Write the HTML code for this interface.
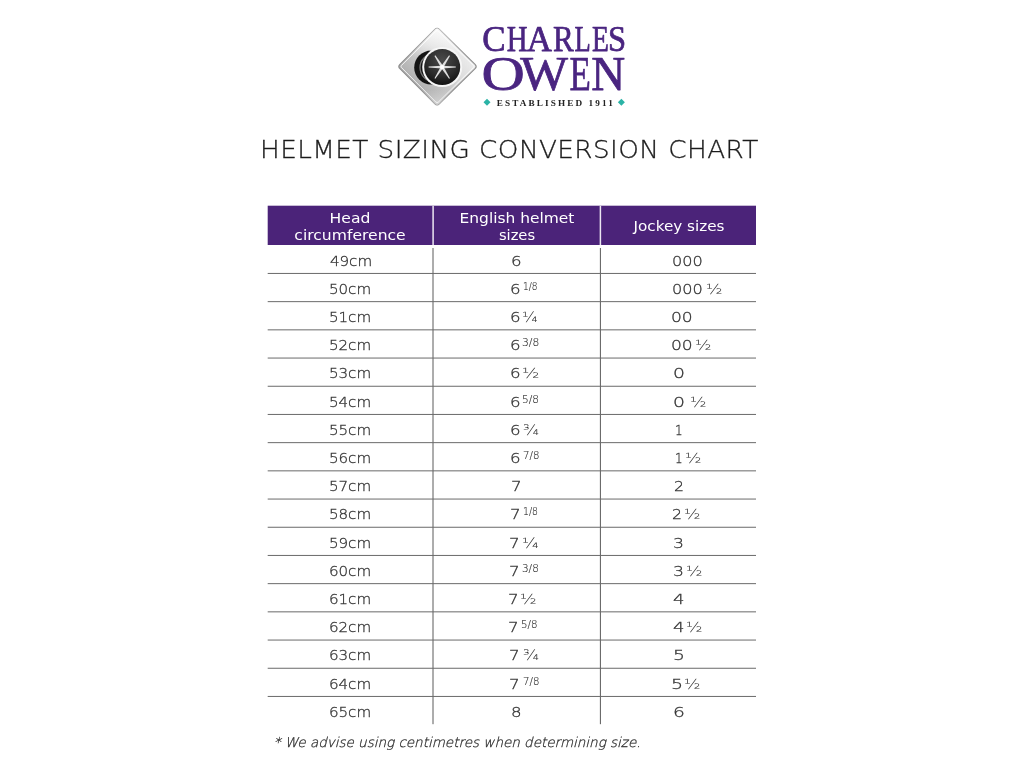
<!DOCTYPE html>
<html lang="en">
<head>
<meta charset="utf-8">
<title>Helmet Sizing Conversion Chart</title>
<style>
html,body{margin:0;padding:0;background:#fff;}
body{width:1024px;height:768px;position:relative;overflow:hidden;font-family:"DejaVu Sans","Liberation Sans",sans-serif;color:#555;}
#grid{position:absolute;left:0;top:0;}
#logo{position:absolute;left:390px;top:20px;width:250px;height:100px;}
h1{position:absolute;margin:0;left:259.8px;top:133.5px;font-family:"DejaVu Sans Light","DejaVu Sans","Liberation Sans",sans-serif;font-weight:normal;font-size:25.2px;line-height:32px;letter-spacing:0.4px;color:#1c1c1c;white-space:nowrap;transform:scaleX(1.043);transform-origin:0 0;-webkit-text-stroke:0.3px #1c1c1c;}
.th{position:absolute;width:160px;color:#fff;font-size:14.3px;line-height:17px;height:17px;text-align:center;white-space:nowrap;transform-origin:50% 0;}
.d,.s{position:absolute;white-space:nowrap;line-height:20px;height:20px;transform-origin:0 0;font-family:"DejaVu Sans Light","DejaVu Sans","Liberation Sans",sans-serif;color:#333;-webkit-text-stroke:0.3px #333;}
.d{font-size:14.6px;}
.f{-webkit-text-stroke:0;color:#333;}
.s{font-size:9.6px;-webkit-text-stroke:0.12px #2a2a2a;color:#2a2a2a;}
.ctr{width:160px;text-align:center;transform-origin:50% 0;}
#note{position:absolute;left:273.7px;top:733.3px;font-style:italic;font-size:13.5px;line-height:18px;white-space:nowrap;color:#333;font-family:"DejaVu Sans Light","DejaVu Sans","Liberation Sans",sans-serif;-webkit-text-stroke:0.3px #333;}
</style>
</head>
<body>
<svg id="logo" viewBox="390 20 250 100" width="250" height="100">
  <defs>
    <linearGradient id="dg" x1="0.22" y1="0.78" x2="0.8" y2="0.2">
      <stop offset="0" stop-color="#adadad"/>
      <stop offset="0.35" stop-color="#c6c6c6"/>
      <stop offset="0.65" stop-color="#dedede"/>
      <stop offset="1" stop-color="#efefef"/>
    </linearGradient>
    <linearGradient id="dh" x1="0" y1="0" x2="0" y2="1">
      <stop offset="0" stop-color="#ffffff" stop-opacity="0.75"/>
      <stop offset="0.38" stop-color="#ffffff" stop-opacity="0"/>
      <stop offset="0.8" stop-color="#ffffff" stop-opacity="0"/>
      <stop offset="1" stop-color="#ffffff" stop-opacity="0.45"/>
    </linearGradient>
    <radialGradient id="disc" cx="0.5" cy="0.3" r="0.75">
      <stop offset="0" stop-color="#4a4a4a"/>
      <stop offset="0.6" stop-color="#2b2b2b"/>
      <stop offset="1" stop-color="#0c0c0c"/>
    </radialGradient>
  </defs>
  <path d="M399.9 64.3 L434.9 29.3 Q437.1 27.1 439.3 29.3 L475.1 64.3 Q477.3 66.5 475.1 68.7 L439.3 103.9 Q437.1 106.1 434.9 103.9 L399.9 68.7 Q397.7 66.5 399.9 64.3 Z" fill="url(#dg)" stroke="#8f8f8f" stroke-width="1.1"/>
  <path d="M399.9 64.3 L434.9 29.3 Q437.1 27.1 439.3 29.3 L475.1 64.3 Q477.3 66.5 475.1 68.7 L439.3 103.9 Q437.1 106.1 434.9 103.9 L399.9 68.7 Q397.7 66.5 399.9 64.3 Z" fill="url(#dh)"/>
  <path d="M401.6 65.4 L435.7 31.3 Q437.1 29.9 438.5 31.3 L473.4 65.4 Q474.5 66.5 473.4 67.6 L438.5 101.9 Q437.1 103.3 435.7 101.9 L401.6 67.6 Q400.5 66.5 401.6 65.4 Z" fill="none" stroke="#ffffff" stroke-width="1" opacity="0.75"/>
  <circle cx="431.2" cy="67.6" r="17" fill="#141414"/>
  <circle cx="434" cy="67.6" r="14" fill="none" stroke="#767676" stroke-width="1.3"/>
  <circle cx="442.2" cy="67.1" r="20" fill="#f6f6f6"/>
  <circle cx="442.2" cy="67.1" r="18" fill="url(#disc)"/>
  <g fill="#dedede">
    <path d="M442.2 65.7 L455.8 66.6 L455.8 67.6 L442.2 68.5 L428.6 67.6 L428.6 66.6 Z"/>
    <path d="M442.2 65.7 L455.8 66.6 L455.8 67.6 L442.2 68.5 L428.6 67.6 L428.6 66.6 Z" transform="rotate(57.5 442.2 67.1)"/>
    <path d="M442.2 65.7 L455.8 66.6 L455.8 67.6 L442.2 68.5 L428.6 67.6 L428.6 66.6 Z" transform="rotate(-57.5 442.2 67.1)"/>
    <circle cx="442.2" cy="67.1" r="2.2" fill="#ffffff"/>
  </g>
  <g fill="#4a2580" stroke="#4a2580" stroke-width="0.75" stroke-linejoin="round" font-family="'Liberation Serif','DejaVu Serif',serif">
    <text y="51.2" font-size="35.7"><tspan x="482.26" textLength="23.37" lengthAdjust="spacingAndGlyphs">C</tspan><tspan x="506.67" textLength="20.77" lengthAdjust="spacingAndGlyphs">H</tspan><tspan x="526.76" textLength="25.20" lengthAdjust="spacingAndGlyphs">A</tspan><tspan x="553.00" textLength="20.74" lengthAdjust="spacingAndGlyphs">R</tspan><tspan x="574.43" textLength="16.27" lengthAdjust="spacingAndGlyphs">L</tspan><tspan x="591.90" textLength="16.87" lengthAdjust="spacingAndGlyphs">E</tspan><tspan x="608.12" textLength="18.09" lengthAdjust="spacingAndGlyphs">S</tspan></text>
    <text y="90.3" font-size="48.9"><tspan x="481.64" textLength="43.32" lengthAdjust="spacingAndGlyphs">O</tspan><tspan x="520.25" textLength="47.75" lengthAdjust="spacingAndGlyphs">W</tspan><tspan x="569.49" textLength="21.35" lengthAdjust="spacingAndGlyphs">E</tspan><tspan x="591.35" textLength="33.93" lengthAdjust="spacingAndGlyphs">N</tspan></text>
  </g>
  <text x="496.8" y="105.6" font-family="'Liberation Serif','DejaVu Serif',serif" font-weight="bold" font-size="9.2" fill="#222" textLength="116" lengthAdjust="spacing">ESTABLISHED 1911</text>
  <path d="M487 98.8 L490.5 102.3 L487 105.8 L483.5 102.3 Z" fill="#2bb3a6"/>
  <path d="M621.4 98.8 L624.9 102.3 L621.4 105.8 L617.9 102.3 Z" fill="#2bb3a6"/>
</svg>

<h1>HELMET SIZING CONVERSION CHART</h1>
<svg id="grid" width="1024" height="768" viewBox="0 0 1024 768">
<rect x="267.7" y="205.7" width="488.3" height="39.3" fill="#4b2379"/>
<path d="M433.1 205.7V245M600.4 205.7V245" stroke="#ebe6f1" stroke-width="1.5" fill="none"/>
<path d="M433 248V724.2M600.4 248V724.2" stroke="#5a5a5a" stroke-width="1" fill="none"/>
<path d="M267.7 273.45H756M267.7 301.65H756M267.7 329.85H756M267.7 358.05H756M267.7 386.25H756M267.7 414.45H756M267.7 442.65H756M267.7 470.85H756M267.7 499.05H756M267.7 527.25H756M267.7 555.45H756M267.7 583.65H756M267.7 611.85H756M267.7 640.05H756M267.7 668.25H756M267.7 696.45H756" stroke="#6a6a6a" stroke-width="1" fill="none"/>
</svg>
<span class="th" style="left:270.2px;top:209.6px;transform:scaleX(1.09)">Head</span>
<span class="th" style="left:270.2px;top:226.6px;transform:scaleX(1.09)">circumference</span>
<span class="th" style="left:436.8px;top:209.6px;transform:scaleX(1.08)">English helmet</span>
<span class="th" style="left:436.5px;top:226.6px;transform:scaleX(1.03)">sizes</span>
<span class="th" style="left:598.5px;top:217.8px;transform:scaleX(1.063)">Jockey sizes</span>

<div id="chart" role="table">
<div class="row" role="row">
<span class="d ctr" id="a0" style="left:270.59px;top:250.55px;transform:scaleX(1.035)">49cm</span>
<span class="d" id="b0" style="left:511.08px;top:250.55px;transform:scaleX(1.140)">6</span>
<span class="d" id="c0" style="left:672.25px;top:250.55px;transform:scaleX(1.104)">000</span>
</div>
<div class="row" role="row">
<span class="d ctr" id="a1" style="left:270.20px;top:278.75px;transform:scaleX(1.035)">50cm</span>
<span class="d" id="b1" style="left:510.22px;top:278.75px;transform:scaleX(1.140)">6</span>
<span class="s" id="bf1" style="left:523.24px;top:276.88px;transform:scaleX(0.938)">1/8</span>
<span class="d" id="c1" style="left:672.25px;top:278.75px;transform:scaleX(1.104)">000</span>
<span class="d f" id="cf1" style="left:706.23px;top:278.75px;transform:scaleX(1.170)">½</span>
</div>
<div class="row" role="row">
<span class="d ctr" id="a2" style="left:270.20px;top:306.95px;transform:scaleX(1.035)">51cm</span>
<span class="d" id="b2" style="left:510.07px;top:306.95px;transform:scaleX(1.140)">6</span>
<span class="d f" id="bf2" style="left:522.45px;top:306.95px;transform:scaleX(1.113)">¼</span>
<span class="d" id="c2" style="left:671.31px;top:306.95px;transform:scaleX(1.170)">00</span>
</div>
<div class="row" role="row">
<span class="d ctr" id="a3" style="left:270.20px;top:335.15px;transform:scaleX(1.035)">52cm</span>
<span class="d" id="b3" style="left:510.32px;top:335.15px;transform:scaleX(1.140)">6</span>
<span class="s" id="bf3" style="left:522.11px;top:333.28px;transform:scaleX(1.115)">3/8</span>
<span class="d" id="c3" style="left:671.31px;top:335.15px;transform:scaleX(1.170)">00</span>
<span class="d f" id="cf3" style="left:695.35px;top:335.15px;transform:scaleX(1.170)">½</span>
</div>
<div class="row" role="row">
<span class="d ctr" id="a4" style="left:270.20px;top:363.35px;transform:scaleX(1.035)">53cm</span>
<span class="d" id="b4" style="left:510.32px;top:363.35px;transform:scaleX(1.140)">6</span>
<span class="d f" id="bf4" style="left:521.88px;top:363.35px;transform:scaleX(1.231)">½</span>
<span class="d" id="c4" style="left:672.73px;top:363.35px;transform:scaleX(1.286)">0</span>
</div>
<div class="row" role="row">
<span class="d ctr" id="a5" style="left:270.20px;top:391.55px;transform:scaleX(1.035)">54cm</span>
<span class="d" id="b5" style="left:510.32px;top:391.55px;transform:scaleX(1.140)">6</span>
<span class="s" id="bf5" style="left:522.26px;top:389.68px;transform:scaleX(1.098)">5/8</span>
<span class="d" id="c5" style="left:672.73px;top:391.55px;transform:scaleX(1.286)">0</span>
<span class="d f" id="cf5" style="left:690.25px;top:391.55px;transform:scaleX(1.171)">½</span>
</div>
<div class="row" role="row">
<span class="d ctr" id="a6" style="left:270.20px;top:419.75px;transform:scaleX(1.035)">55cm</span>
<span class="d" id="b6" style="left:510.32px;top:419.75px;transform:scaleX(1.140)">6</span>
<span class="d f" id="bf6" style="left:522.78px;top:419.75px;transform:scaleX(1.133)">¾</span>
<span class="d" id="c6" style="left:675.28px;top:419.75px;transform:scaleX(0.820)">1</span>
</div>
<div class="row" role="row">
<span class="d ctr" id="a7" style="left:270.20px;top:447.95px;transform:scaleX(1.035)">56cm</span>
<span class="d" id="b7" style="left:510.32px;top:447.95px;transform:scaleX(1.140)">6</span>
<span class="s" id="bf7" style="left:523.20px;top:446.08px;transform:scaleX(1.059)">7/8</span>
<span class="d" id="c7" style="left:675.28px;top:447.95px;transform:scaleX(0.820)">1</span>
<span class="d f" id="cf7" style="left:685.35px;top:447.95px;transform:scaleX(1.170)">½</span>
</div>
<div class="row" role="row">
<span class="d ctr" id="a8" style="left:270.20px;top:476.15px;transform:scaleX(1.035)">57cm</span>
<span class="d" id="b8" style="left:511.11px;top:476.15px;transform:scaleX(1.140)">7</span>
<span class="d" id="c8" style="left:673.84px;top:476.15px;transform:scaleX(1.077)">2</span>
</div>
<div class="row" role="row">
<span class="d ctr" id="a9" style="left:270.20px;top:504.35px;transform:scaleX(1.035)">58cm</span>
<span class="d" id="b9" style="left:510.08px;top:504.35px;transform:scaleX(1.140)">7</span>
<span class="s" id="bf9" style="left:523.16px;top:502.48px;transform:scaleX(0.974)">1/8</span>
<span class="d" id="c9" style="left:671.90px;top:504.35px;transform:scaleX(1.077)">2</span>
<span class="d f" id="cf9" style="left:684.35px;top:504.35px;transform:scaleX(1.170)">½</span>
</div>
<div class="row" role="row">
<span class="d ctr" id="a10" style="left:270.20px;top:532.55px;transform:scaleX(1.035)">59cm</span>
<span class="d" id="b10" style="left:509.29px;top:532.55px;transform:scaleX(1.140)">7</span>
<span class="d f" id="bf10" style="left:522.16px;top:532.55px;transform:scaleX(1.178)">¼</span>
<span class="d" id="c10" style="left:672.93px;top:532.55px;transform:scaleX(1.182)">3</span>
</div>
<div class="row" role="row">
<span class="d ctr" id="a11" style="left:270.20px;top:560.75px;transform:scaleX(1.035)">60cm</span>
<span class="d" id="b11" style="left:509.29px;top:560.75px;transform:scaleX(1.140)">7</span>
<span class="s" id="bf11" style="left:521.81px;top:558.88px;transform:scaleX(1.085)">3/8</span>
<span class="d" id="c11" style="left:672.93px;top:560.75px;transform:scaleX(1.182)">3</span>
<span class="d f" id="cf11" style="left:686.21px;top:560.75px;transform:scaleX(1.170)">½</span>
</div>
<div class="row" role="row">
<span class="d ctr" id="a12" style="left:270.20px;top:588.95px;transform:scaleX(1.035)">61cm</span>
<span class="d" id="b12" style="left:507.86px;top:588.95px;transform:scaleX(1.140)">7</span>
<span class="d f" id="bf12" style="left:520.28px;top:588.95px;transform:scaleX(1.179)">½</span>
<span class="d" id="c12" style="left:673.23px;top:588.95px;transform:scaleX(1.235)">4</span>
</div>
<div class="row" role="row">
<span class="d ctr" id="a13" style="left:270.20px;top:617.15px;transform:scaleX(1.035)">62cm</span>
<span class="d" id="b13" style="left:507.86px;top:617.15px;transform:scaleX(1.140)">7</span>
<span class="s" id="bf13" style="left:521.06px;top:615.28px;transform:scaleX(1.067)">5/8</span>
<span class="d" id="c13" style="left:673.23px;top:617.15px;transform:scaleX(1.235)">4</span>
<span class="d f" id="cf13" style="left:686.25px;top:617.15px;transform:scaleX(1.171)">½</span>
</div>
<div class="row" role="row">
<span class="d ctr" id="a14" style="left:270.20px;top:645.35px;transform:scaleX(1.035)">63cm</span>
<span class="d" id="b14" style="left:509.29px;top:645.35px;transform:scaleX(1.140)">7</span>
<span class="d f" id="bf14" style="left:522.78px;top:645.35px;transform:scaleX(1.133)">¾</span>
<span class="d" id="c14" style="left:673.15px;top:645.35px;transform:scaleX(1.281)">5</span>
</div>
<div class="row" role="row">
<span class="d ctr" id="a15" style="left:270.20px;top:673.55px;transform:scaleX(1.035)">64cm</span>
<span class="d" id="b15" style="left:509.29px;top:673.55px;transform:scaleX(1.140)">7</span>
<span class="s" id="bf15" style="left:523.20px;top:671.68px;transform:scaleX(1.059)">7/8</span>
<span class="d" id="c15" style="left:670.84px;top:673.55px;transform:scaleX(1.300)">5</span>
<span class="d f" id="cf15" style="left:683.77px;top:673.55px;transform:scaleX(1.170)">½</span>
</div>
<div class="row" role="row">
<span class="d ctr" id="a16" style="left:270.20px;top:701.75px;transform:scaleX(1.035)">65cm</span>
<span class="d" id="b16" style="left:511.35px;top:701.75px;transform:scaleX(1.140)">8</span>
<span class="d" id="c16" style="left:672.67px;top:701.75px;transform:scaleX(1.273)">6</span>
</div>
</div>
<div id="note">* We advise using centimetres when determining size.</div>
</body>
</html>
